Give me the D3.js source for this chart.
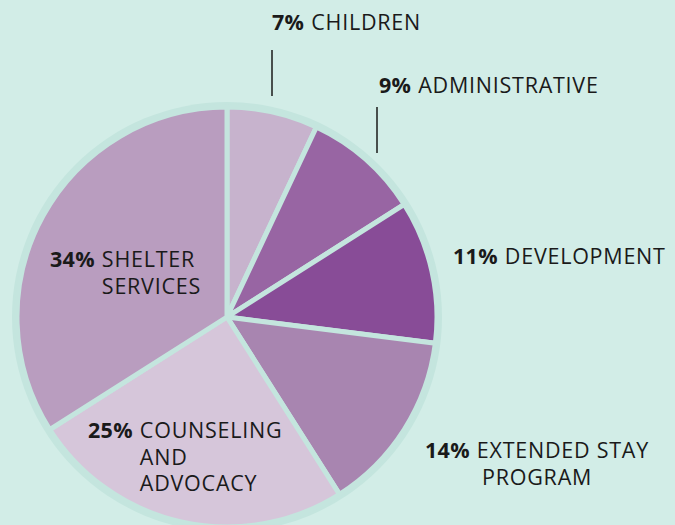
<!DOCTYPE html>
<html lang="en">
  <head>
    <meta charset="utf-8" />
    <title>Expenses</title>
    <script src="https://d3js.org/d3.v7.min.js"></script>
    <style type="text/css">
      body {
        margin: 0;
        background: #d2ede7;
      }
      text {
        font-family: "Open Sans", sans-serif;
        font-size: 21.5px;
        letter-spacing: 0.75px;
        fill: #1a1a1a;
      }
      .pct {
        font-weight: 700;
        letter-spacing: 0.3px;
      }
    </style>
  </head>
  <body>
    <script type="text/javascript">
      const w = 675;
      const h = 525;

      // Data
      const categories = ["CHILDREN", "ADMINISTRATIVE", "DEVELOPMENT", "EXTENDED STAY PROGRAM", "COUNSELING AND ADVOCACY", "SHELTER SERVICES"];
      const values = [7, 9, 11, 14, 25, 34];
      const colors = ["#c7b3cd", "#9865a3", "#884c97", "#a885b0", "#d6c6da", "#b99dbf"];

      // label lines (text broken over lines) and placement
      const labelLines = [
        ["CHILDREN"],
        ["ADMINISTRATIVE"],
        ["DEVELOPMENT"],
        ["EXTENDED STAY", "PROGRAM"],
        ["COUNSELING", "AND", "ADVOCACY"],
        ["SHELTER", "SERVICES"]
      ];
      const labelPos = [
        { x: 272, y: 30, anchor: "start" },
        { x: 379, y: 93, anchor: "start" },
        { x: 453, y: 264, anchor: "start" },
        { x: 425, y: 458, anchor: "middle" },
        { x: 88, y: 438, anchor: "start" },
        { x: 50, y: 267, anchor: "start" }
      ];
      const leaders = [
        { x: 272, y1: 50, y2: 96 },
        { x: 377, y1: 107, y2: 153 }
      ];

      const cx = 227;
      const cy = 317;
      const radius = 210;
      const lineH = 26.5;

      const svg = d3.select("body").append("svg").attr("width", w).attr("height", h);

      const g = svg.append("g").attr("transform", "translate(" + cx + "," + cy + ")");

      // outer ring
      g.append("circle").attr("r", radius + 5).attr("fill", "#c4e5de");

      const pie = d3.pie().sort(null);
      const arc = d3.arc().innerRadius(0).outerRadius(radius);

      g.selectAll("path")
        .data(pie(values))
        .enter()
        .append("path")
        .attr("d", arc)
        .attr("fill", function (d, i) {
          return colors[i];
        })
        .attr("stroke", "#c4e5de")
        .attr("stroke-width", 5)
        .attr("stroke-linejoin", "round");

      // leader lines
      svg.selectAll("line.leader")
        .data(leaders)
        .enter()
        .append("line")
        .attr("class", "leader")
        .attr("x1", function (d) { return d.x; })
        .attr("x2", function (d) { return d.x; })
        .attr("y1", function (d) { return d.y1; })
        .attr("y2", function (d) { return d.y2; })
        .attr("stroke", "#1a1a1a")
        .attr("stroke-width", 1.5);

      // labels
      values.forEach(function (v, i) {
        const p = labelPos[i];
        const lines = labelLines[i];
        const t = svg.append("text").attr("x", p.x).attr("y", p.y);
        t.append("tspan").attr("class", "pct").text(v + "%");
        const first = t.append("tspan").attr("dx", 7).text(lines[0]);
        if (p.anchor === "middle") {
          // centre the following lines under the first one
          const bb = t.node().getBBox();
          const mid = bb.x + bb.width / 2;
          lines.slice(1).forEach(function (l, k) {
            svg.append("text")
              .attr("x", mid)
              .attr("y", p.y + lineH * (k + 1))
              .attr("text-anchor", "middle")
              .text(l);
          });
        } else {
          const indent = first.node().getStartPositionOfChar(0).x;
          lines.slice(1).forEach(function (l, k) {
            svg.append("text")
              .attr("x", indent)
              .attr("y", p.y + lineH * (k + 1))
              .text(l);
          });
        }
      });
    </script>
  </body>
</html>
